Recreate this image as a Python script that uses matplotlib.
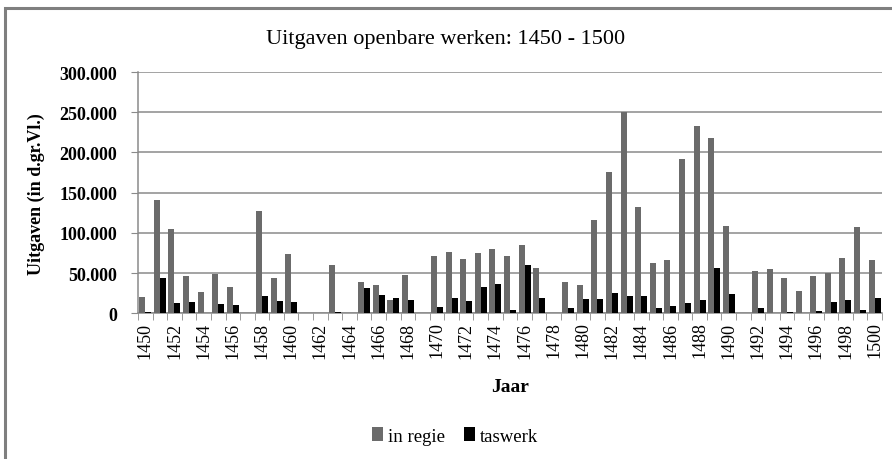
import matplotlib
matplotlib.use("Agg")
import matplotlib.pyplot as plt
import numpy as np
from matplotlib.ticker import FuncFormatter
from matplotlib.patches import Rectangle

plt.rcParams['font.family'] = ['Liberation Serif', 'DejaVu Serif']

years = list(range(1450, 1501))
# uitgaven in regie (d.gr.Vl.)
in_regie = [20000, 140500, 104700, 46000, 26600, 49000, 32400, 0, 127600, 44000,
            74000, 0, 0, 60000, 0, 38700, 35000, 17000, 47000, 0,
            70700, 76500, 67300, 74800, 79800, 70700, 84400, 56500, 0, 38700,
            34500, 116000, 176000, 250000, 132000, 62300, 65700, 192000, 233000, 218000,
            109000, 0, 52800, 54900, 43600, 27400, 46500, 49500, 69000, 107600,
            66000]
taswerk = [2000, 43600, 12900, 14000, 500, 11000, 9600, 0, 21600, 15400,
           13700, 0, 0, 2000, 0, 30800, 22400, 18300, 15800, 0,
           7900, 18300, 15000, 32400, 36200, 4200, 59900, 18300, 0, 6200,
           17500, 17500, 25000, 21600, 20800, 7000, 9000, 12500, 16600, 55700,
           23700, 0, 7000, 0, 1000, 0, 3300, 13700, 17000, 3700,
           18700]

fig = plt.figure(figsize=(8.92, 4.6), dpi=100)
ax = fig.add_axes([0.1547, 0.317, 0.834, 0.524])

x = np.arange(len(years))
w = 0.41
ax.bar(x - w/2, in_regie, w, color='#6b6b6b', label='in regie', zorder=3)
ax.bar(x + w/2, taswerk, w, color='black', label='taswerk', zorder=3)

ax.set_xlim(-0.5, len(years) - 0.5)
ax.set_ylim(0, 300000)
ax.set_yticks(np.arange(0, 300001, 50000))
ax.yaxis.set_major_formatter(FuncFormatter(lambda v, p: '0' if v == 0 else f'{int(v):,}'.replace(',', '.')))
ax.grid(axis='y', color='#8a8a8a', linewidth=1.1, zorder=0)

ax.set_xticks(x[::2])
ax.set_xticklabels([str(y) for y in years[::2]], rotation=90, fontsize=13)
ax.set_xticks(np.arange(-0.5, len(years), 1), minor=True)
ax.tick_params(axis='x', which='major', length=0, pad=6)
ax.tick_params(axis='x', which='minor', length=5, color='#8a8a8a', direction='out')
ax.tick_params(axis='y', length=5, color='#8a8a8a', labelsize=13, pad=10)
for lab in ax.get_yticklabels():
    lab.set_fontweight('bold')

for s in ['top', 'right']:
    ax.spines[s].set_visible(False)
for s in ['left', 'bottom']:
    ax.spines[s].set_color('#8a8a8a')
    ax.spines[s].set_linewidth(1.1)

ax.set_ylabel('Uitgaven (in d.gr.Vl.)', fontsize=13, fontweight='bold', labelpad=10)
ax.set_xlabel('Jaar', fontsize=14, fontweight='bold', labelpad=15)
fig.suptitle('Uitgaven openbare werken: 1450 - 1500', fontsize=16, y=0.935)

fig.legend(loc='center', bbox_to_anchor=(0.51, 0.05), ncol=2, frameon=False,
           fontsize=13.5, handlelength=0.6, handleheight=0.7, handletextpad=0.25,
           columnspacing=1.0)

# chart area border
fig.patches.append(Rectangle((0.006, -0.01), 1.2, 0.99, transform=fig.transFigure,
                             fill=False, edgecolor='#7f7f7f', linewidth=2.2))

fig.savefig('out.png', dpi=100)
